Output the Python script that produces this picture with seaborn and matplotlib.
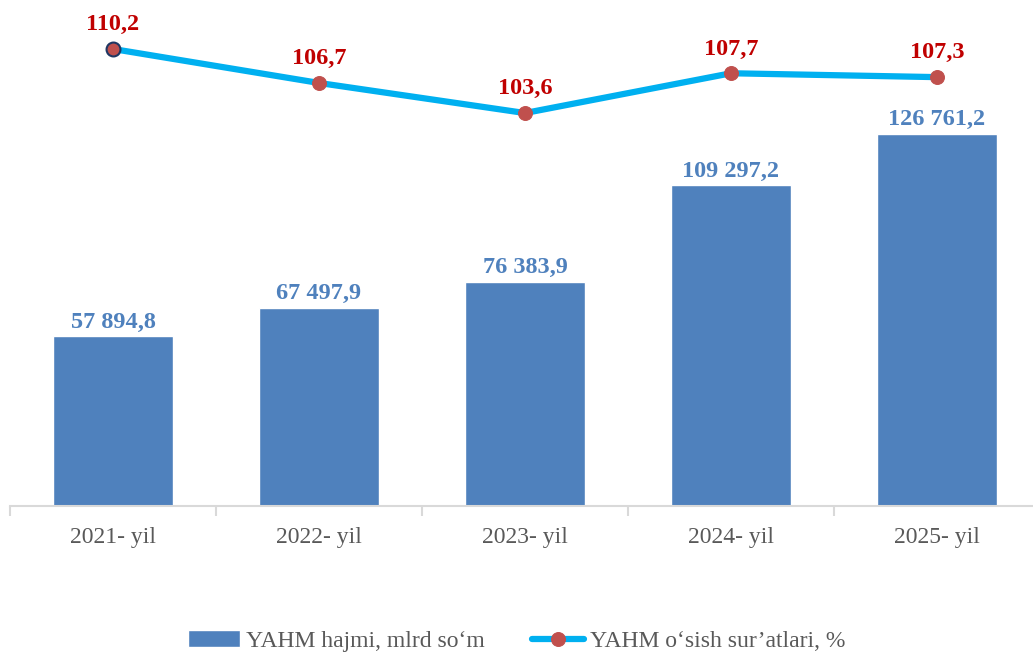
import numpy as np
import pandas as pd
import matplotlib
matplotlib.use("Agg")
import matplotlib.pyplot as plt
import seaborn as sns

years = ["2021- yil", "2022- yil", "2023- yil", "2024- yil", "2025- yil"]
volume = [57894.8, 67497.9, 76383.9, 109297.2, 126761.2]
growth = [110.2, 106.7, 103.6, 107.7, 107.3]
volume_labels = ["57 894,8", "67 497,9", "76 383,9", "109 297,2", "126 761,2"]
growth_labels = ["110,2", "106,7", "103,6", "107,7", "107,3"]
bar_name = "YAHM hajmi, mlrd so\u2018m"
line_name = "YAHM o\u2018sish sur\u2019atlari, %"

sns.set_theme(style="white")
plt.rcParams["font.family"] = ["Liberation Serif", "DejaVu Serif"]

W, H = 1033, 656
fig = plt.figure(figsize=(W / 100, H / 100), dpi=100)
ax = fig.add_axes([10 / W, (H - 506) / H, 1030 / W, 506 / H])

df = pd.DataFrame({"year": years, "volume": volume})
sns.barplot(data=df, x="year", y="volume", color="#4F81BD", saturation=1,
            width=0.58, ax=ax, label=bar_name)
if ax.get_legend() is not None:
    ax.get_legend().remove()
ax.set_ylim(0, 172300)
ax.set_xlim(-0.5, 4.5)
ax.set_xlabel("")
ax.set_ylabel("")
ax.set_yticks([])
for s in ["top", "right", "left"]:
    ax.spines[s].set_visible(False)
ax.spines["bottom"].set_color("#d9d9d9")
ax.spines["bottom"].set_linewidth(1.5)
ax.tick_params(axis="x", which="major", length=0, labelsize=17,
               labelcolor="#595959", pad=15)
ax.set_xticks(np.arange(-0.5, 5, 1), minor=True)
ax.tick_params(axis="x", which="minor", bottom=True, length=7, width=1.5,
               color="#d9d9d9", direction="out")

for i, (v, lab) in enumerate(zip(volume, volume_labels)):
    ax.annotate(lab, (i, v), xytext=(0, 6), textcoords="offset points",
                ha="center", va="baseline", fontsize=17.5, fontweight="bold",
                color="#4F81BD")

ax2 = ax.twinx()
x = np.arange(len(years))
sns.lineplot(x=x, y=growth, ax=ax2, color="#00B0F0", linewidth=4.5,
             marker="o", markersize=10, markerfacecolor="#C0504D",
             markeredgecolor="#C0504D", label=line_name, legend=False)
ax2.plot([x[0]], [growth[0]], "o", markersize=10, markerfacecolor="#C0504D",
         markeredgecolor="#1F3864", markeredgewidth=1.5)
ax2.set_ylim(63.1, 115.25)
ax2.set_yticks([])
for s in ["top", "right", "left", "bottom"]:
    ax2.spines[s].set_visible(False)
for i, (v, lab) in enumerate(zip(growth, growth_labels)):
    ax2.annotate(lab, (i, v), xytext=(0, 13.5), textcoords="offset points",
                 ha="center", va="baseline", fontsize=17.5, fontweight="bold",
                 color="#C00000")

h1, l1 = ax.get_legend_handles_labels()
h2, l2 = ax2.get_legend_handles_labels()
fig.legend(h1 + h2, l1 + l2, loc="center", bbox_to_anchor=(0.5, 1 - 641 / H),
           ncol=2, frameon=False, fontsize=17, labelcolor="#595959",
           handlelength=2.2, columnspacing=2.0, handletextpad=0.25)

fig.savefig("out.png", dpi=100)
